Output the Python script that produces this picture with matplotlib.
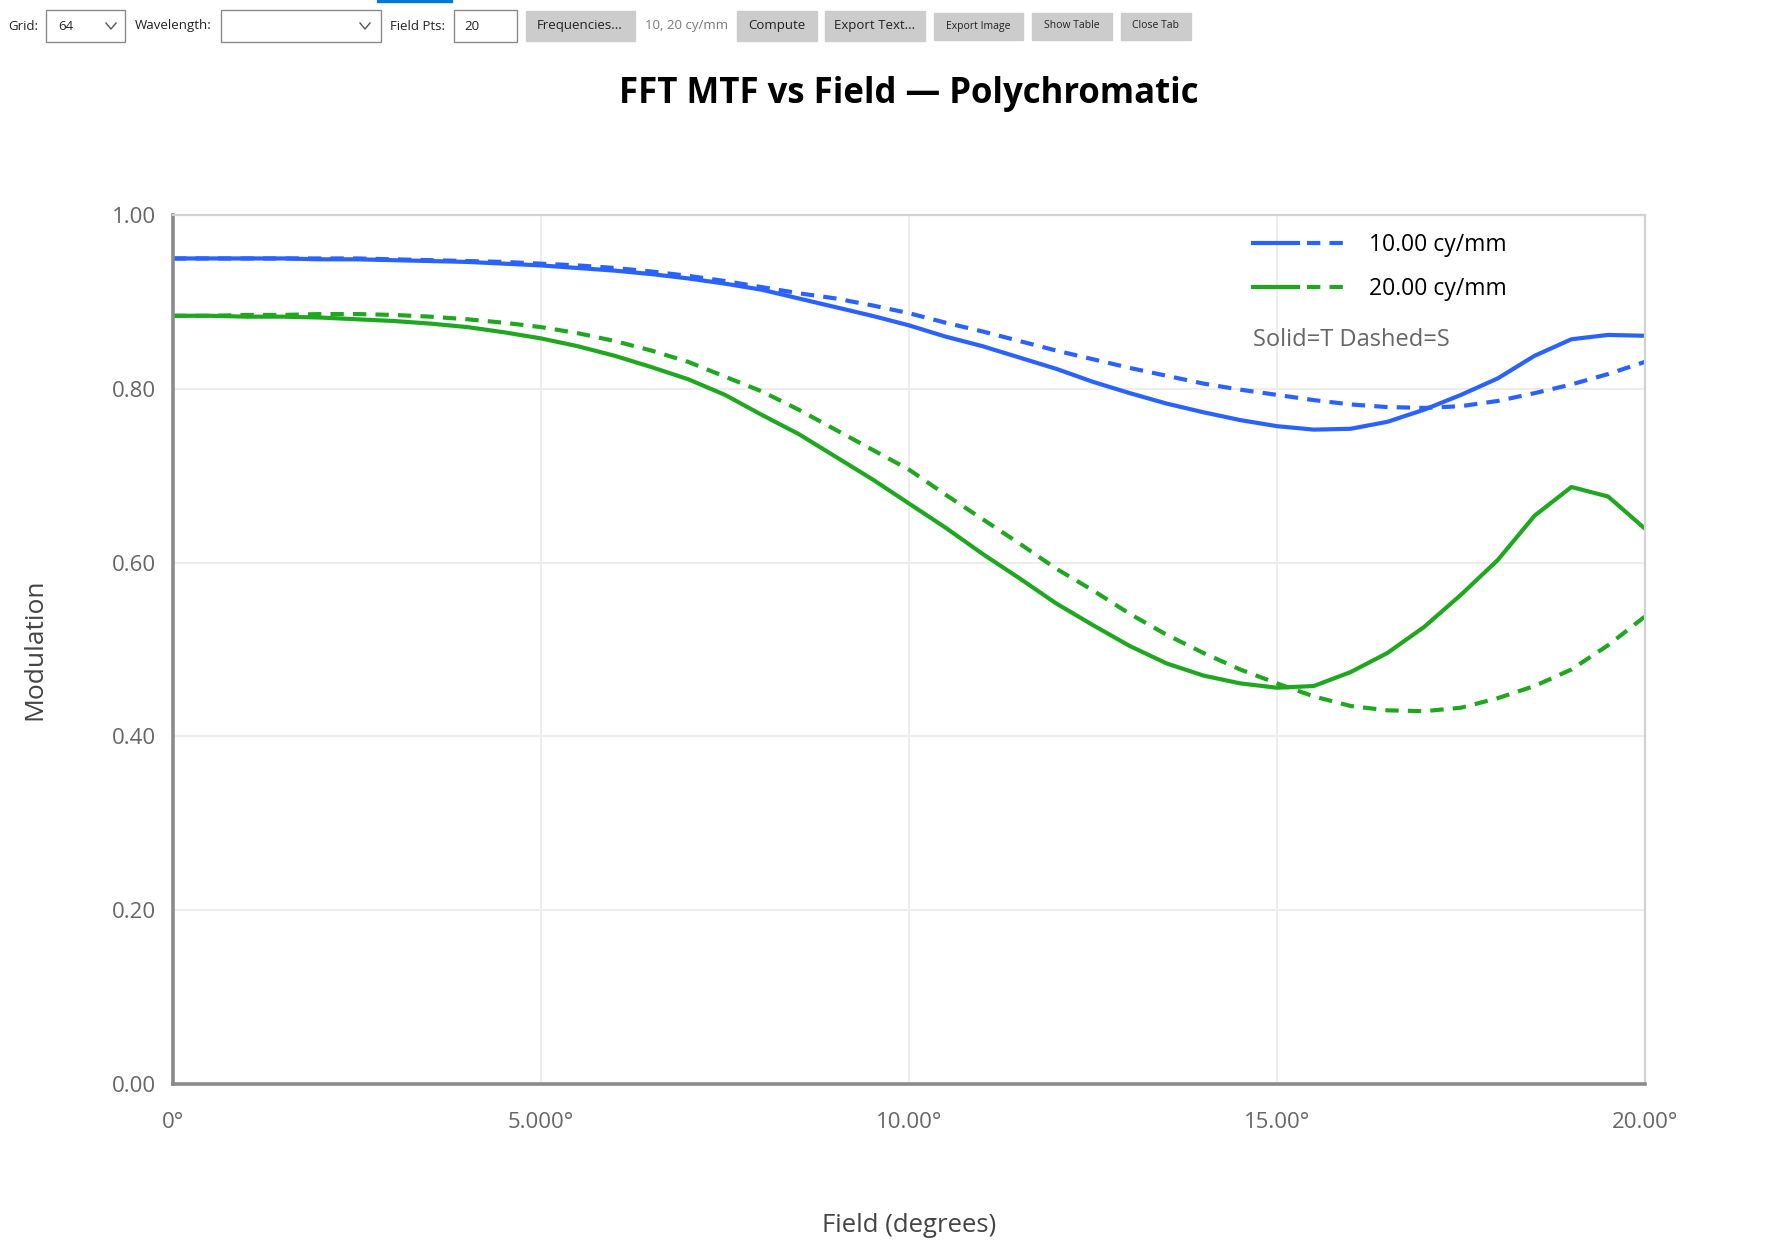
import matplotlib
matplotlib.use("Agg")
import matplotlib.pyplot as plt
from matplotlib.lines import Line2D
from matplotlib.legend_handler import HandlerTuple
from matplotlib.patches import Rectangle

plt.rcParams['font.family'] = ['Open Sans', 'DejaVu Sans']

# field angle (degrees) and MTF values
field_deg = [0.0, 0.5, 1.0, 1.5, 2.0, 2.5, 3.0, 3.5, 4.0, 4.5,
             5.0, 5.5, 6.0, 6.5, 7.0, 7.5, 8.0, 8.5, 9.0, 9.5,
             10.0, 10.5, 11.0, 11.5, 12.0, 12.5, 13.0, 13.5, 14.0, 14.5,
             15.0, 15.5, 16.0, 16.5, 17.0, 17.5, 18.0, 18.5, 19.0, 19.5, 20.0]

mtf_10_tan = [0.950, 0.950, 0.950, 0.950, 0.949, 0.949, 0.948, 0.947, 0.946, 0.944,
              0.942, 0.939, 0.936, 0.932, 0.927, 0.921, 0.914, 0.904, 0.894, 0.884,
              0.873, 0.860, 0.849, 0.836, 0.823, 0.808, 0.795, 0.783, 0.773, 0.764,
              0.757, 0.753, 0.754, 0.762, 0.776, 0.793, 0.812, 0.838, 0.857, 0.862, 0.861]

mtf_10_sag = [0.950, 0.950, 0.950, 0.950, 0.950, 0.950, 0.949, 0.948, 0.947, 0.946,
              0.944, 0.942, 0.939, 0.935, 0.930, 0.924, 0.917, 0.910, 0.904, 0.896,
              0.887, 0.876, 0.866, 0.855, 0.844, 0.834, 0.824, 0.815, 0.806, 0.799,
              0.793, 0.787, 0.782, 0.779, 0.778, 0.780, 0.786, 0.795, 0.805, 0.817, 0.831]

mtf_20_tan = [0.884, 0.884, 0.883, 0.883, 0.882, 0.880, 0.878, 0.875, 0.871, 0.865,
              0.858, 0.849, 0.838, 0.825, 0.811, 0.793, 0.770, 0.748, 0.722, 0.696,
              0.668, 0.640, 0.610, 0.582, 0.553, 0.528, 0.504, 0.484, 0.470, 0.461,
              0.456, 0.458, 0.474, 0.496, 0.526, 0.563, 0.603, 0.654, 0.687, 0.676, 0.639]

mtf_20_sag = [0.884, 0.884, 0.885, 0.885, 0.886, 0.886, 0.885, 0.883, 0.880, 0.876,
              0.871, 0.864, 0.855, 0.844, 0.831, 0.814, 0.797, 0.776, 0.753, 0.730,
              0.707, 0.678, 0.650, 0.622, 0.593, 0.568, 0.541, 0.517, 0.496, 0.477,
              0.461, 0.446, 0.435, 0.430, 0.429, 0.433, 0.444, 0.458, 0.477, 0.505, 0.538]

freq_labels = ["10.00 cy/mm", "20.00 cy/mm"]
x_ticks = [0, 5, 10, 15, 20]
x_tick_labels = ["0°", "5.000°", "10.00°", "15.00°", "20.00°"]
y_ticks = [0.0, 0.2, 0.4, 0.6, 0.8, 1.0]
y_tick_labels = ["0.00", "0.20", "0.40", "0.60", "0.80", "1.00"]

BLUE = '#2962ff'
GREEN = '#1fa81f'
DASH = (0, (3.2, 2.2))
LW = 3.0

W, H = 1784, 1254


def fx(px):
    return px / W


def fy(py):
    return 1 - py / H


fig = plt.figure(figsize=(W / 100, H / 100), dpi=100)

# ---- toolbar strip of the app window ----
def box(x0, y0, x1, y1, face, edge=None):
    fig.add_artist(Rectangle((fx(x0), fy(y1)), fx(x1) - fx(x0), fy(y0) - fy(y1),
                             transform=fig.transFigure, facecolor=face,
                             edgecolor=edge if edge else face, linewidth=1.0))


def label(x, y, s, size=9.5, color='#222222', ha='left'):
    fig.text(fx(x), fy(y), s, fontsize=size, color=color, ha=ha, va='center')


def chevron(cx, cy):
    fig.add_artist(Line2D([fx(cx - 5), fx(cx), fx(cx + 5)], [fy(cy - 3), fy(cy + 3), fy(cy - 3)],
                          transform=fig.transFigure, color='#555555', lw=1.0))


box(377, 0, 452, 2, '#0078d4')
label(8, 26, "Grid:")
box(46, 10, 125, 42, 'white', '#8a8a8a')
label(58, 26, "64")
chevron(111, 26)
label(135, 26, "Wavelength:")
box(221, 10, 381, 42, 'white', '#8a8a8a')
chevron(365, 26)
label(390, 26, "Field Pts:")
box(454, 10, 517, 42, 'white', '#8a8a8a')
label(464, 27, "20")
box(526, 11, 635, 41, '#cccccc')
label(580, 26, "Frequencies...", ha='center')
label(645, 26, "10, 20 cy/mm", color='#777777')
box(737, 11, 817, 41, '#cccccc')
label(777, 26, "Compute", ha='center')
box(825, 11, 925, 41, '#cccccc')
label(875, 26, "Export Text...", ha='center')
box(934, 13, 1023, 40, '#cccccc')
label(978, 26, "Export Image", size=7.5, ha='center')
box(1032, 13, 1112, 40, '#cccccc')
label(1072, 26, "Show Table", size=7.5, ha='center')
box(1121, 13, 1191, 40, '#cccccc')
label(1156, 26, "Close Tab", size=7.5, ha='center')

# ---- chart ----
ax = fig.add_axes([fx(173), fy(1084), fx(1645) - fx(173), fy(215) - fy(1084)])

ax.plot(field_deg, mtf_10_tan, color=BLUE, lw=LW, solid_capstyle='round', solid_joinstyle='round')
ax.plot(field_deg, mtf_10_sag, color=BLUE, lw=LW, linestyle=DASH)
ax.plot(field_deg, mtf_20_tan, color=GREEN, lw=LW, solid_capstyle='round', solid_joinstyle='round')
ax.plot(field_deg, mtf_20_sag, color=GREEN, lw=LW, linestyle=DASH)

ax.set_xlim(0, 20)
ax.set_ylim(0, 1)
ax.set_xticks(x_ticks)
ax.set_xticklabels(x_tick_labels)
ax.set_yticks(y_ticks)
ax.set_yticklabels(y_tick_labels)
ax.grid(True, color='#ececec', lw=1.3)
ax.set_axisbelow(True)
ax.tick_params(axis='both', length=0, labelsize=16, labelcolor='#666666')
ax.tick_params(axis='x', pad=20)
ax.tick_params(axis='y', pad=12)

for side in ['top', 'right']:
    ax.spines[side].set_color('#d2d2d2')
    ax.spines[side].set_linewidth(1.6)
for side in ['left', 'bottom']:
    ax.spines[side].set_color('#8a8a8a')
    ax.spines[side].set_linewidth(2.6)

ax.set_ylabel("Modulation", fontsize=19, color='#444444', labelpad=47)
fig.text(fx(909), fy(1226), "Field (degrees)", fontsize=18.5, color='#444444',
         ha='center', va='center')
fig.text(fx(909), fy(94), "FFT MTF vs Field — Polychromatic", fontsize=25,
         fontweight='bold', color='black', ha='center', va='center')

handles = [
    (Line2D([], [], color=BLUE, lw=LW), Line2D([], [], color=BLUE, lw=LW, linestyle=DASH)),
    (Line2D([], [], color=GREEN, lw=LW), Line2D([], [], color=GREEN, lw=LW, linestyle=DASH)),
]
ax.legend(handles, freq_labels, handler_map={tuple: HandlerTuple(ndivide=None, pad=0.4)},
          loc='upper left', bbox_to_anchor=(fx(1253), fy(233)), bbox_transform=fig.transFigure,
          frameon=False, borderpad=0, borderaxespad=0, handlelength=4.3,
          handletextpad=0.75, labelspacing=0.86, fontsize=16.5)
fig.text(fx(1253), fy(340), "Solid=T Dashed=S", fontsize=17, color='#666666',
         ha='left', va='center')

fig.savefig("out.png", dpi=100)
